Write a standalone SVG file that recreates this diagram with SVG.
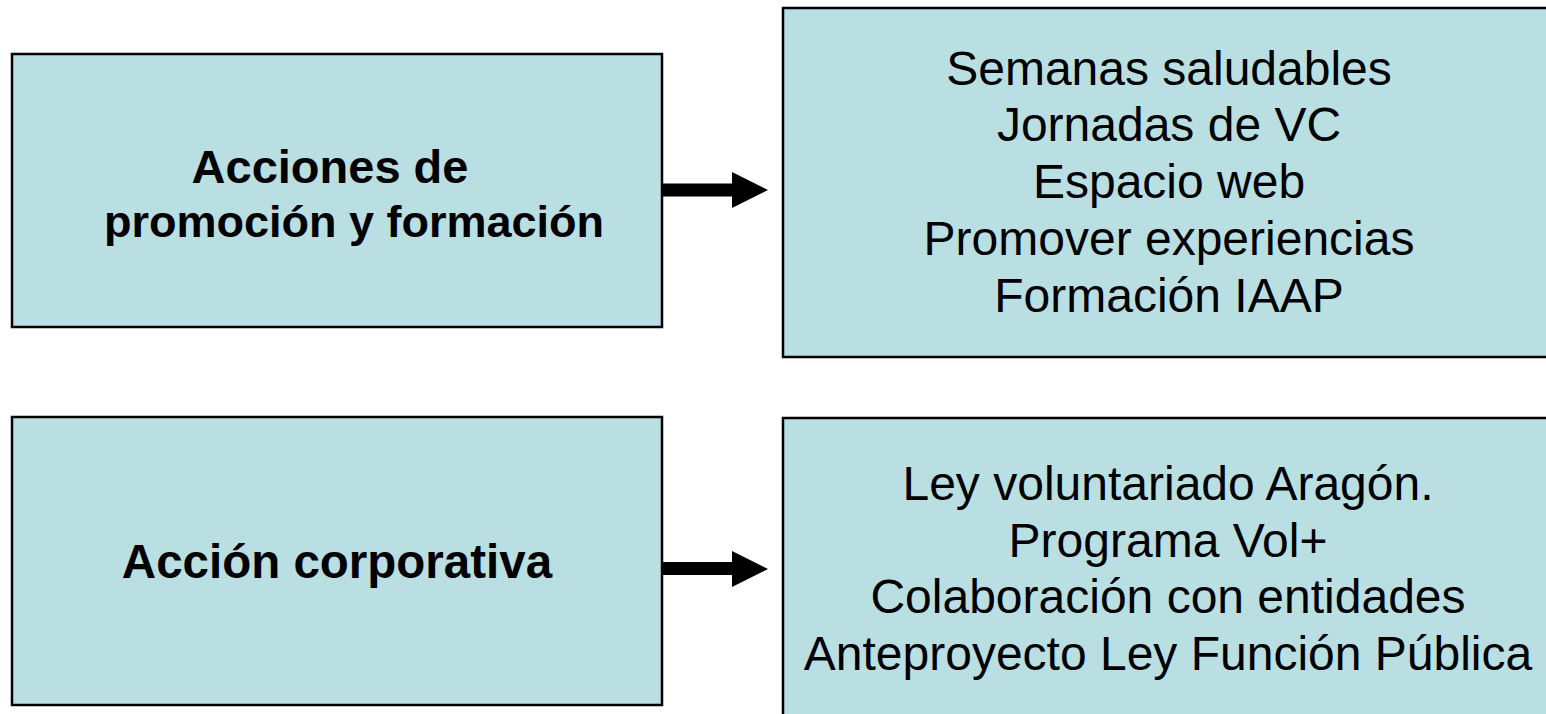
<svg xmlns="http://www.w3.org/2000/svg" width="1546" height="714" viewBox="0 0 1546 714">
<style>
.box{fill:#b9dfe3;stroke:#000;stroke-width:2.5}
.b{font-family:"Liberation Sans",Arial,sans-serif;font-weight:bold;font-size:45px;fill:#000;text-anchor:middle}
.r{font-family:"Liberation Sans",Arial,sans-serif;font-size:48px;fill:#000;text-anchor:middle}
.arrow{fill:#000}
</style>
<rect width="1546" height="714" fill="#fff"/>
<g id="node-acciones">
<rect class="box" x="12" y="54" width="650" height="273"/>
<text class="b" x="330" y="183" style="font-size:47px">Acciones de</text>
<text class="b" x="354" y="237">promoción y formación</text>
</g>
<g id="node-lista1">
<rect class="box" x="783" y="8" width="780" height="349"/>
<text class="r" x="1169" y="85">Semanas saludables</text>
<text class="r" x="1169" y="141">Jornadas de VC</text>
<text class="r" x="1169" y="198">Espacio web</text>
<text class="r" x="1169" y="255">Promover experiencias</text>
<text class="r" x="1169" y="312">Formación IAAP</text>
</g>
<g id="node-corporativa">
<rect class="box" x="12" y="417" width="650" height="288"/>
<text class="b" x="337" y="578" style="font-size:47.5px">Acción corporativa</text>
</g>
<g id="node-lista2">
<rect class="box" x="783" y="418" width="780" height="320"/>
<text class="r" x="1168" y="500">Ley voluntariado Aragón.</text>
<text class="r" x="1168" y="557">Programa Vol+</text>
<text class="r" x="1168" y="613">Colaboración con entidades</text>
<text class="r" x="1168" y="670">Anteproyecto Ley Función Pública</text>
</g>
<g id="connectors">
<polygon class="arrow" points="663,183.5 732,183.5 732,172 768,190 732,208 732,196.5 663,196.5"/>
<polygon class="arrow" points="663,562 732,562 732,551 768,569 732,587 732,575 663,575"/>
</g>
</svg>
